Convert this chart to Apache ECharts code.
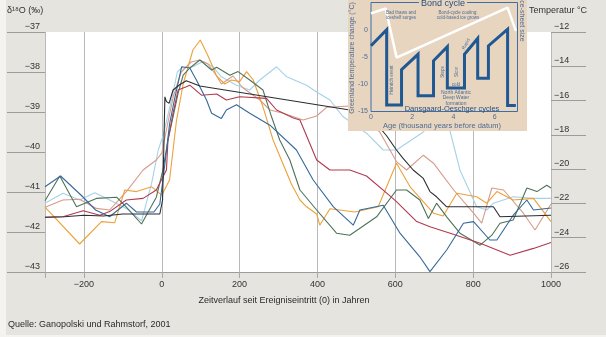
<!DOCTYPE html>
<html><head><meta charset="utf-8">
<script src="https://cdn.jsdelivr.net/npm/echarts@6/dist/echarts.min.js"></script>
<style>html,body{margin:0;padding:0;background:#fff}#c{width:606px;height:337px}</style>
</head><body><div id="c"></div>
<script>
// Time since event onset (years) paired with δ18O (‰) for each simulated/recorded event
const orange = [[-300,-41.38],[-211,-42.3],[-155,-41.74],[-121,-41.77],[-95,-40.95],[-65,-40.99],[-26,-40.87],[0,-41.08],[20,-40.7],[38,-39.2],[55,-38.3],[80,-37.45],[99,-37.2],[119,-37.6],[141,-38.1],[162,-38.3],[179,-38.2],[200,-38.24],[218,-37.99],[235,-38.2],[260,-38.87],[286,-39.7],[303,-40.1],[333,-40.8],[355,-41.2],[372,-41.37],[398,-41.55],[406,-41.83],[432,-41.42],[496,-41.5],[556,-41.37],[603,-40.28],[638,-40.87],[698,-41.53],[723,-41.6],[758,-41.03],[809,-41.12],[835,-41.28],[861,-40.99],[903,-41.2],[955,-41.16],[1000,-41.74]];
const lightBlue = [[-300,-41.28],[-254,-41.03],[-211,-41.2],[-172,-41.02],[-134,-41.2],[-91,-41.41],[-52,-41.72],[-26,-40.78],[-9,-39.95],[3,-39.6],[25,-38.7],[40,-38.0],[51,-37.9],[80,-37.87],[106,-37.74],[132,-37.87],[153,-38.12],[192,-38.33],[226,-38.45],[252,-38.2],[295,-37.87],[321,-38.12],[372,-38.33],[398,-38.5],[432,-38.7],[466,-39.12],[526,-39.53],[569,-39.95],[603,-39.95],[672,-39.5],[715,-39.0],[740,-39.45],[766,-40.45],[809,-41.37],[835,-41.45],[852,-41.28],[903,-41.12],[955,-41.16],[1000,-41.16]];
const black = [[-300,-41.63],[-250,-41.62],[-200,-41.58],[-150,-41.6],[-100,-41.55],[-50,-41.55],[-5,-41.55],[2,-41.2],[5,-40.0],[8,-38.62],[12,-38.74],[19,-38.78],[29,-38.45],[46,-38.32],[63,-38.22],[98,-38.35],[483,-38.95],[548,-39.25],[578,-39.6],[603,-39.95],[620,-40.16],[646,-40.45],[672,-40.66],[689,-40.99],[706,-41.12],[732,-41.37],[852,-41.37],[869,-41.62],[1000,-41.58]];
const crimson = [[-300,-41.63],[-254,-41.62],[-202,-41.47],[-159,-41.58],[-134,-41.49],[-91,-41.2],[-48,-41.16],[-14,-40.95],[12,-40.45],[16,-39.7],[29,-39.03],[42,-38.45],[63,-38.37],[72,-38.33],[102,-38.58],[141,-38.55],[166,-38.7],[200,-38.62],[269,-38.66],[295,-38.95],[338,-39.15],[355,-39.2],[380,-39.78],[398,-40.2],[432,-40.45],[483,-40.45],[526,-40.6],[578,-41.03],[603,-41.24],[655,-41.74],[689,-41.87],[741,-42.03],[818,-42.28],[895,-42.58],[955,-42.41],[1000,-42.26]];
const steelBlue = [[-300,-40.87],[-260,-40.6],[-205,-41.1],[-170,-41.45],[-134,-41.62],[-91,-41.28],[-65,-41.5],[-20,-41.5],[-5,-41.3],[8,-40.3],[20,-39.3],[33,-38.67],[51,-37.87],[72,-37.9],[89,-38.2],[115,-38.7],[128,-39.03],[153,-39.16],[166,-38.95],[192,-38.82],[226,-39.03],[278,-39.33],[346,-39.95],[389,-40.7],[441,-41.37],[492,-41.83],[509,-41.45],[569,-41.33],[612,-42.03],[663,-42.62],[689,-42.99],[732,-42.45],[775,-41.78],[801,-41.74],[843,-42.2],[861,-42.2],[903,-41.58],[938,-41.2],[955,-41.45],[1000,-41.4]];
const green = [[-300,-41.22],[-262,-40.6],[-219,-41.37],[-168,-41.16],[-116,-41.13],[-91,-41.38],[-52,-41.8],[-14,-41.13],[3,-40.45],[16,-39.7],[29,-39.12],[42,-38.53],[55,-38.08],[72,-37.9],[98,-37.7],[128,-37.95],[141,-37.88],[175,-38.08],[196,-37.99],[226,-38.2],[260,-38.45],[282,-39.12],[303,-39.7],[329,-40.2],[355,-40.95],[398,-41.45],[449,-42.03],[483,-42.08],[552,-41.62],[603,-40.95],[629,-40.95],[663,-41.2],[685,-41.66],[706,-41.28],[732,-41.62],[766,-42.03],[818,-42.33],[848,-42.08],[869,-41.78],[903,-41.7],[938,-40.9],[964,-40.99],[989,-40.83],[1000,-40.9]];
const salmon = [[-300,-41.38],[-254,-41.2],[-211,-41.18],[-168,-41.41],[-134,-41.45],[-91,-40.99],[-48,-40.45],[-14,-40.2],[0,-40.03],[15,-39.3],[30,-38.6],[50,-38.0],[75,-37.75],[97,-37.7],[119,-37.8],[141,-38.1],[153,-38.3],[183,-38.1],[209,-38.4],[252,-38.7],[278,-38.95],[312,-39.03],[363,-39.2],[398,-39.1],[424,-38.88],[483,-38.85],[560,-39.5],[603,-40.24],[629,-40.45],[672,-40.08],[698,-40.28],[750,-40.95],[801,-41.53],[822,-41.78],[848,-40.9],[878,-40.95],[929,-41.53],[959,-41.95],[1000,-41.3]];

// Axis ticks
const xTicks = [-300,-200,0,200,400,600,800,1000];
const xLabels = [-200,0,200,400,600,800,1000];

// Inset: Dansgaard-Oeschger cycles and Bond cycle (age in kyr, temperature change °C)
const doCycles = [[0,-2.95],[0.76,0],[0.76,-13.8],[1.48,-13.8],[1.48,-7.3],[2.28,-4.5],[2.28,-12.1],[3.03,-12.1],[3.03,-5.7],[3.70,-3.1],[3.70,-10.7],[4.53,-10.7],[4.53,-4.5],[5.17,-1.6],[5.17,-8.9],[5.69,-8.9],[5.69,-2.95],[6.62,0.1],[6.62,-13.9],[7.02,-13.9]];
const bondCycle = [[0,3.0],[0.71,3.9],[1.24,-5.1],[6.62,4.06],[7.02,-0.2]];

const FONT = '"Liberation Sans", Arial, sans-serif';
const minus = v => String(v).replace('-', '\u2212');
const TAN = '#e8d5c0';
const INSET_TXT = '#4d6c92';

function line(data, color, z) {
  return { type: 'line', data, xAxisIndex: 0, yAxisIndex: 0, showSymbol: false, symbol: 'none',
    lineStyle: { color, width: 1.1 }, z: z || 2, silent: true, animation: false };
}

const chart = echarts.init(document.getElementById('c'), null, { renderer: 'canvas' });
chart.setOption({
  animation: false,
  backgroundColor: '#e6e4de',
  textStyle: { fontFamily: FONT },
  grid: [
    { left: 45, right: 55, top: 32, bottom: 65, show: true, backgroundColor: '#ffffff', borderWidth: 0, z: 0 },
    { left: 371, top: 2.5, width: 146.5, height: 109, show: true, backgroundColor: 'transparent', borderColor: '#3d6ea5', borderWidth: 1, z: 21 }
  ],
  xAxis: [
    { type: 'value', gridIndex: 0, min: -300, max: 1000,
      axisLine: { show: true, onZero: false, lineStyle: { color: '#9c9c9c', width: 1 } },
      axisTick: { show: true, length: 6, customValues: xTicks, lineStyle: { color: '#a8a8a8' } },
      axisLabel: { customValues: xLabels, formatter: minus, color: '#333', fontSize: 9, margin: 8, fontFamily: FONT },
      splitLine: { show: true, lineStyle: { color: '#b9b9b9', width: 1 } } },
    { type: 'value', gridIndex: 1, min: 0, max: 7.1, interval: 2, z: 22,
      axisLine: { show: false, onZero: false }, axisTick: { show: false }, splitLine: { show: false },
      axisLabel: { color: INSET_TXT, fontSize: 7, margin: 2, showMaxLabel: false, fontFamily: FONT } }
  ],
  yAxis: [
    { type: 'value', gridIndex: 0, min: -43, max: -37, interval: 1, position: 'left',
      axisLine: { show: false, onZero: false },
      axisTick: { show: true, length: 38, lineStyle: { color: '#9c9c9c' } },
      axisLabel: { formatter: minus, color: '#333', fontSize: 9, margin: 5, verticalAlign: 'bottom', padding: [0, 0, 1, 0], fontFamily: FONT },
      splitLine: { show: false } },
    { type: 'value', gridIndex: 0, min: -26, max: -12, interval: 2, position: 'right',
      axisLine: { show: false, onZero: false },
      axisTick: { show: true, length: 35, lineStyle: { color: '#9c9c9c' } },
      axisLabel: { formatter: minus, color: '#333', fontSize: 9, margin: 3, verticalAlign: 'bottom', padding: [0, 0, 1, 0], fontFamily: FONT },
      splitLine: { show: false } },
    { type: 'value', gridIndex: 1, min: -15, max: 5, interval: 5, z: 22,
      axisLine: { show: false, onZero: false }, axisTick: { show: false }, splitLine: { show: false },
      axisLabel: { color: INSET_TXT, fontSize: 7, margin: 3, showMaxLabel: false, fontFamily: FONT } }
  ],
  series: [
    line(lightBlue, '#a6d2e8'),
    line(salmon, '#d69b89'),
    line(orange, '#eba23a'),
    line(green, '#4f7259'),
    line(crimson, '#b23a4f'),
    line(steelBlue, '#35699a'),
    line(black, '#2a2d33', 3),
    { type: 'line', data: bondCycle, xAxisIndex: 1, yAxisIndex: 2, showSymbol: false, symbol: 'none',
      lineStyle: { color: '#ffffff', width: 2.5 }, z: 23, silent: true },
    { type: 'line', data: doCycles, xAxisIndex: 1, yAxisIndex: 2, showSymbol: false, symbol: 'none',
      lineStyle: { color: '#1f5892', width: 3, join: 'miter' }, z: 24, silent: true }
  ],
  graphic: [
    { type: 'rect', z: 20, silent: true, shape: { x: 348, y: 0, width: 179, height: 131 }, style: { fill: TAN } },
    { type: 'rect', z: 0, silent: true, shape: { x: 0, y: 0, width: 6, height: 337 }, style: { fill: '#f4f3f0' } },
    { type: 'rect', z: 0, silent: true, shape: { x: 0, y: 335, width: 606, height: 2 }, style: { fill: '#f4f3f0' } },
    { type: 'text', z: 5, silent: true, x: 7, y: 11, style: { text: 'δ¹⁸O (‰)', font: '9px ' + FONT, fill: '#333', textVerticalAlign: 'middle', verticalAlign: 'middle' } },
    { type: 'text', z: 5, silent: true, x: 529, y: 11, style: { text: 'Temperatur °C', font: '9px ' + FONT, fill: '#333', textVerticalAlign: 'middle', verticalAlign: 'middle' } },
    { type: 'text', z: 5, silent: true, x: 284, y: 301, style: { text: 'Zeitverlauf seit Ereigniseintritt (0) in Jahren', font: '500 9px ' + FONT, fill: '#2a2a2a', textAlign: 'center', align: 'center', textVerticalAlign: 'middle', verticalAlign: 'middle' } },
    { type: 'text', z: 5, silent: true, x: 8, y: 325, style: { text: 'Quelle: Ganopolski und Rahmstorf, 2001', font: '9px ' + FONT, fill: '#2a2a2a', textVerticalAlign: 'middle', verticalAlign: 'middle' } },
    // inset annotations
    { type: 'text', z: 30, silent: true, x: 443, y: 3.5, style: { text: 'Bond cycle', font: '9px ' + FONT, fill: '#27507f', backgroundColor: TAN, padding: [0, 2], textAlign: 'center', align: 'center', textVerticalAlign: 'middle', verticalAlign: 'middle' } },
    { type: 'text', z: 30, silent: true, x: 352, y: 58, rotation: Math.PI / 2, style: { text: 'Greenland temperature change (°C)', font: '7px ' + FONT, fill: INSET_TXT, textAlign: 'center', align: 'center', textVerticalAlign: 'middle', verticalAlign: 'middle' } },
    { type: 'text', z: 30, silent: true, x: 522, y: 20, rotation: -Math.PI / 2, style: { text: 'Ice-sheet size', font: '7px ' + FONT, fill: INSET_TXT, textAlign: 'center', align: 'center', textVerticalAlign: 'middle', verticalAlign: 'middle' } },
    { type: 'text', z: 30, silent: true, x: 442, y: 126, style: { text: 'Age (thousand years before datum)', font: '7.5px ' + FONT, fill: INSET_TXT, textAlign: 'center', align: 'center', textVerticalAlign: 'middle', verticalAlign: 'middle' } },
    { type: 'text', z: 30, silent: true, x: 401, y: 15, style: { text: 'Bad thaws and\niceshelf surges', font: '4.5px ' + FONT, fill: INSET_TXT, textAlign: 'center', align: 'center', textVerticalAlign: 'middle', verticalAlign: 'middle', lineHeight: 5 } },
    { type: 'text', z: 30, silent: true, x: 458, y: 15, style: { text: 'Bond-cycle cooling:\ncold-based ice grows', font: '4.5px ' + FONT, fill: INSET_TXT, textAlign: 'center', align: 'center', textVerticalAlign: 'middle', verticalAlign: 'middle', lineHeight: 5 } },
    { type: 'text', z: 30, silent: true, x: 392, y: 80, rotation: Math.PI / 2, style: { text: 'Heinrich event', font: '4.5px ' + FONT, fill: INSET_TXT, textAlign: 'center', align: 'center', textVerticalAlign: 'middle', verticalAlign: 'middle' } },
    { type: 'text', z: 30, silent: true, x: 443, y: 72, rotation: Math.PI / 2, style: { text: 'Steps', font: '4.5px ' + FONT, fill: INSET_TXT, textAlign: 'center', align: 'center', textVerticalAlign: 'middle', verticalAlign: 'middle' } },
    { type: 'text', z: 30, silent: true, x: 457, y: 72, rotation: Math.PI / 2, style: { text: 'Slow', font: '4.5px ' + FONT, fill: INSET_TXT, textAlign: 'center', align: 'center', textVerticalAlign: 'middle', verticalAlign: 'middle' } },
    { type: 'text', z: 30, silent: true, x: 466, y: 44, rotation: Math.PI / 3, style: { text: 'Rapid', font: '4.5px ' + FONT, fill: INSET_TXT, textAlign: 'center', align: 'center', textVerticalAlign: 'middle', verticalAlign: 'middle' } },
    { type: 'text', z: 30, silent: true, x: 456, y: 85, style: { text: 'cold', font: '4.5px ' + FONT, fill: INSET_TXT, textAlign: 'center', align: 'center', textVerticalAlign: 'middle', verticalAlign: 'middle' } },
    { type: 'text', z: 30, silent: true, x: 456, y: 98, style: { text: 'North Atlantic\nDeep Water\nformation', font: '5px ' + FONT, fill: INSET_TXT, textAlign: 'center', align: 'center', textVerticalAlign: 'middle', verticalAlign: 'middle', lineHeight: 5.5 } },
    { type: 'text', z: 30, silent: true, x: 452, y: 108.5, style: { text: 'Dansgaard-Oeschger cycles', font: '7.5px ' + FONT, fill: '#27507f', textAlign: 'center', align: 'center', textVerticalAlign: 'middle', verticalAlign: 'middle' } }
  ]
});
</script></body></html>
